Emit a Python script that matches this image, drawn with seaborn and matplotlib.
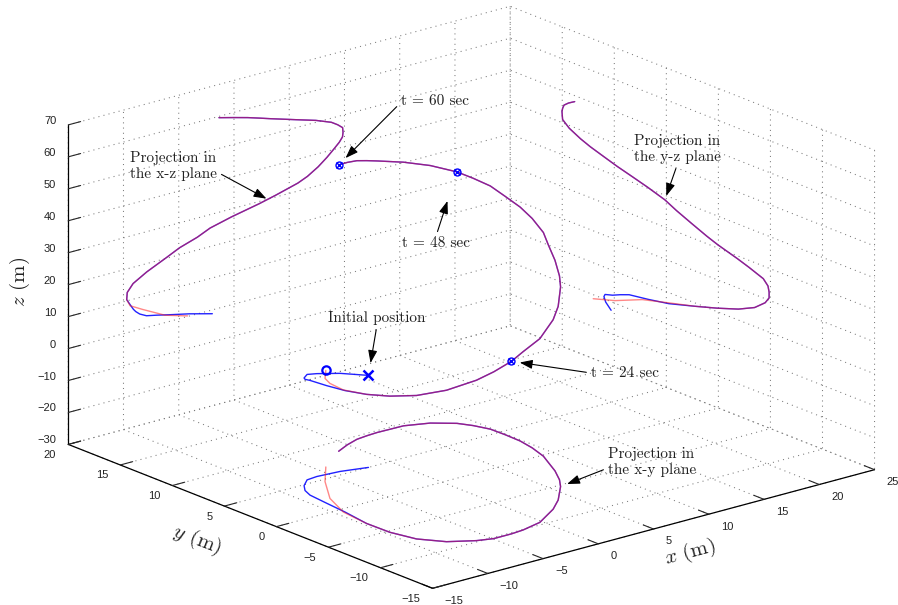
import numpy as np
import matplotlib
matplotlib.use("Agg")
import matplotlib.pyplot as plt
import seaborn as sns

# ---------------- data ----------------
# beginning of the true trajectory (blue) before it merges with the estimate
true_start_x = [-1.96, -4.04, -5.99, -6.97, -7.92, -8.53, -8.89, -9.10, -9.31]
true_start_y = [5.00, 5.52, 5.69, 5.58, 4.86, 4.12, 3.26, 1.44, -0.54]
true_start_z = [-1.2, 0.7, 2.2, 3.0, 3.7, 4.8, 5.9, 6.8, 8.0]

# beginning of the estimated trajectory (red)
est_start_x = [-4.20, -6.24, -8.27, -9.40]
est_start_y = [6.72, 4.63, 2.00, -0.48]
est_start_z = [0.2, 2.3, 6.0, 8.2]

# common part of both trajectories
common_x = [-9.71, -9.66, -9.13, -7.89, -6.13, -4.92, -3.32, -2.16, -0.22, 2.29,
            3.81, 5.78, 6.65, 7.62, 8.41, 9.00, 9.53, 9.82, 9.87, 9.83,
            9.39, 8.82, 7.42, 5.61, 3.26, 2.27, 1.25, -0.03, -1.36]
common_y = [-3.04, -5.22, -7.23, -8.79, -9.80, -10.18, -10.18, -10.07, -9.62, -8.23,
            -7.10, -5.24, -4.21, -2.75, -1.27, -0.17, 1.47, 2.93, 4.43, 5.81,
            6.99, 7.94, 9.02, 9.66, 9.72, 9.65, 9.52, 9.09, 8.50]
common_z = [10.4, 12.6, 14.9, 17.4, 20.2, 22.2, 24.0, 25.8, 27.5, 29.3,
            30.6, 32.5, 33.8, 35.9, 38.1, 40.0, 41.8, 43.2, 44.6, 46.1,
            47.4, 48.7, 50.6, 52.5, 55.0, 56.1, 57.2, 58.4, 59.6]

time_labels = ["t = 24 sec", "t = 48 sec", "t = 60 sec"]
time_index = [6, 21, 28]          # index into the common arrays

xz_plane_y = 20                   # plane of the x-z projection
yz_plane_x = 20                   # plane of the y-z projection
xy_plane_z = -30                  # plane of the x-y projection

x_ticks = [-15, -10, -5, 0, 5, 10, 15, 20, 25]
y_ticks = [-15, -10, -5, 0, 5, 10, 15, 20]
z_ticks = [-30, -20, -10, 0, 10, 20, 30, 40, 50, 60, 70]

# ---------------- style ----------------
sns.set_theme(style="white")
plt.rcParams.update({
    "font.family": ["Liberation Sans", "DejaVu Sans"],
    "mathtext.fontset": "cm",
    "axes.unicode_minus": True,
})

true_x = np.array(true_start_x + common_x)
true_y = np.array(true_start_y + common_y)
true_z = np.array(true_start_z + common_z)
est_x = np.array(est_start_x + common_x)
est_y = np.array(est_start_y + common_y)
est_z = np.array(est_start_z + common_z)

BLUE = "#0a0aff"
RED = "#ff1a1a"

fig = plt.figure(figsize=(8.98, 6.05), dpi=100)
ax = fig.add_axes([0, 0, 1, 1], projection="3d", proj_type="ortho",
                  computed_zorder=False)
ax.set_box_aspect((1, 1, 0.59))
ax.view_init(elev=19, azim=-129.5)

line_kw = dict(lw=1.0, solid_capstyle="round", solid_joinstyle="round")


def draw_pair(xb, yb, zb, xr, yr, zr):
    ax.plot(xb, yb, zb, color=BLUE, alpha=0.9, zorder=3, **line_kw)
    ax.plot(xr, yr, zr, color=RED, alpha=0.52, zorder=4, **line_kw)


# 3-D trajectories
draw_pair(true_x, true_y, true_z, est_x, est_y, est_z)
# projections
draw_pair(true_x, np.full_like(true_y, xz_plane_y), true_z,
          est_x, np.full_like(est_y, xz_plane_y), est_z)
draw_pair(np.full_like(true_x, yz_plane_x), true_y, true_z,
          np.full_like(est_x, yz_plane_x), est_y, est_z)
draw_pair(true_x, true_y, np.full_like(true_z, xy_plane_z),
          est_x, est_y, np.full_like(est_z, xy_plane_z))

# markers
n0 = len(true_start_x)
m0 = len(est_start_x)
ti_true = [n0 + i for i in time_index]
ti_est = [m0 + i for i in time_index]
ax.plot(true_x[ti_true], true_y[ti_true], true_z[ti_true], "x", color="#0000ff",
        ms=4.5, mew=1.0, zorder=6)
ax.plot(est_x[ti_est], est_y[ti_est], est_z[ti_est], "o", color="#0000ff",
        mfc="none", ms=5, mew=1.0, zorder=6)
ax.plot([true_x[0]], [true_y[0]], [true_z[0]], "x", color="#0000ff",
        ms=7, mew=1.8, zorder=6)
ax.plot([est_x[0]], [est_y[0]], [est_z[0]], "o", color="#0000ff",
        mfc="none", ms=6, mew=1.6, zorder=6)

# axes
ax.set_xlim(-15, 25)
ax.set_ylim(-15, 20)
ax.set_zlim(-30, 70)
ax.set_xticks(x_ticks)
ax.set_yticks(y_ticks)
ax.set_zticks(z_ticks)
ax.xaxis.set_ticklabels([""] * len(x_ticks))
ax.yaxis.set_ticklabels([""] * len(y_ticks))
ax.zaxis.set_ticklabels([""] * len(z_ticks))

for axis in (ax.xaxis, ax.yaxis, ax.zaxis):
    axis.set_pane_color((1, 1, 1, 0))
    axis.pane.set_edgecolor((1, 1, 1, 0))
    axis.line.set_color("black")
    axis.line.set_linewidth(0.9)
    axis._axinfo["grid"].update(color="#7a7a7a", linewidth=0.75,
                                linestyle=(0, (1, 4)))
    axis._axinfo["tick"].update(inward_factor=0.0, outward_factor=0.35)
    axis._axinfo["tick"]["linewidth"] = {True: 0.8, False: 0.5}
    axis._axinfo["tick"]["color"] = "black"

fig.canvas.draw()

# --------- fit the projected box to the reference layout ----------
def proj2d(x, y, z):
    M = ax.get_proj()
    v = M @ np.array([x, y, z, 1.0])
    return v[0] / v[3], v[1] / v[3]


def disp(x, y, z):
    return ax.transData.transform(proj2d(x, y, z))


H = fig.bbox.height
W = fig.bbox.width
corners = [(-15, -15, -30), (25, -15, -30), (-15, 20, -30), (-15, 20, 70)]
targets = np.array([(433, H - 587), (874.6, H - 470.3), (68, H - 445), (68, H - 125)])
P = np.array([disp(*c) for c in corners])
Pm, Tm = P.mean(0), targets.mean(0)
s = ((P - Pm) * (targets - Tm)).sum() / ((P - Pm) ** 2).sum()
t = Tm - s * Pm
bb = ax.get_position().transformed(fig.transFigure)
cx, cy = (bb.x0 + bb.x1) / 2, (bb.y0 + bb.y1) / 2
nw, nh = bb.width * s, bb.height * s
ncx, ncy = s * cx + t[0], s * cy + t[1]
ax.set_position([(ncx - nw / 2) / W, (ncy - nh / 2) / H, nw / W, nh / H])

# ---------------- tick labels (MATLAB-like placement) ----------------
tick_kw = dict(xycoords="data", textcoords="offset pixels", fontsize=8,
               color="#222222", va="center", annotation_clip=False)


def fmt(v):
    return f"{v:d}".replace("-", "\u2212")


for v in x_ticks:
    ax.annotate(fmt(v), xy=proj2d(v, -15, -30), xytext=(12, -12.5), ha="left", **tick_kw)
for v in y_ticks:
    ax.annotate(fmt(v), xy=proj2d(-15, v, -30), xytext=(-12, -10.5), ha="right", **tick_kw)
for v in z_ticks:
    ax.annotate(fmt(v), xy=proj2d(-15, 20, v), xytext=(-12, 4), ha="right", **tick_kw)

# axis titles, placed where the reference shows them
lab_kw = dict(fontsize=15, family="cmr10", color="#222222", ha="center", va="center")
fig.text(690 / W, 1 - 553 / H, r"$x$ (m)", rotation=15, **lab_kw)
fig.text(197 / W, 1 - 540 / H, r"$y$ (m)", rotation=-21, **lab_kw)
fig.text(20 / W, 1 - 282 / H, r"$z$ (m)", rotation=90, **lab_kw)

# ---------------- annotations ----------------
ann_kw = dict(family="cmr10", fontsize=11, color="#222222",
              textcoords="figure pixels", xycoords="data")


def arrow(relpos, shrink):
    return dict(arrowstyle="-|>,head_length=0.7,head_width=0.25", color="black",
                lw=0.8, relpos=relpos, shrinkA=1, shrinkB=shrink)


def annotate(text, pt, txy, ha, va, relpos, shrink=4):
    ax.annotate(text, xy=proj2d(*pt), xytext=(txy[0], H - txy[1]), ha=ha, va=va,
                arrowprops=arrow(relpos, shrink), **ann_kw)


i24, i48, i60 = ti_true
annotate(time_labels[2], (true_x[i60], true_y[i60], true_z[i60]), (401, 101),
         "left", "center", (0, 0.4), 7)
annotate(time_labels[1], (true_x[i48], true_y[i48], true_z[i48]), (402, 243),
         "left", "center", (0.5, 1.0), 22)
annotate(time_labels[0], (true_x[i24], true_y[i24], true_z[i24]), (591, 373),
         "left", "center", (0, 0.5), 6)
annotate("Initial position", (true_x[0], true_y[0], true_z[0]), (377, 318),
         "center", "center", (0.5, 0.0), 9)

k = n0 + 9
annotate("Projection in\nthe x-z plane",
         ((true_x[k] + true_x[k + 1]) / 2, xz_plane_y, (true_z[k] + true_z[k + 1]) / 2),
         (130, 166), "left", "center", (1.0, 0.3), 1)
k = n0 + 15
annotate("Projection in\nthe y-z plane", (yz_plane_x, true_y[k], true_z[k]),
         (634, 149), "left", "center", (0.5, 0.0), 3)
k = n0 + 11
annotate("Projection in\nthe x-y plane", (true_x[k], true_y[k], xy_plane_z),
         (608, 462), "left", "center", (0.0, 0.3), 5)

fig.savefig("out.png", dpi=100)
